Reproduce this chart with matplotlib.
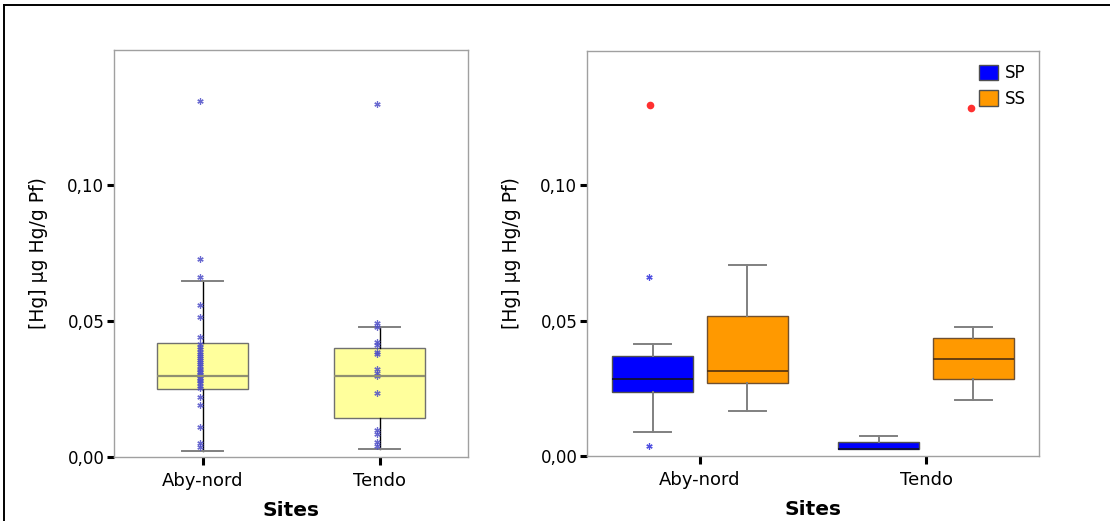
import matplotlib
matplotlib.use("Agg")
import matplotlib.pyplot as plt
from matplotlib.lines import Line2D
from matplotlib.patches import Patch
from matplotlib.ticker import FuncFormatter

# ---------------- data ----------------
sites = ["Aby-nord", "Tendo"]
yticks = [0.0, 0.05, 0.10]

# left panel box stats (per site)
left_med = [0.0299, 0.0299]
left_q1 = [0.0250, 0.0142]
left_q3 = [0.0417, 0.0400]
left_lo = [0.0022, 0.0028]
left_hi = [0.0645, 0.0477]

# individual measurements overlaid in left panel
aby_points = [0.1306, 0.0728, 0.0663, 0.0560, 0.0515, 0.0442, 0.0415, 0.0405,
              0.0395, 0.0385, 0.0378, 0.0370, 0.0362, 0.0355, 0.0348, 0.0340,
              0.0333, 0.0325, 0.0318, 0.0312, 0.0305, 0.0300, 0.0296, 0.0290,
              0.0284, 0.0278, 0.0270, 0.0262, 0.0255, 0.0221, 0.0190, 0.0111,
              0.0050, 0.0035]
tendo_points = [0.1297, 0.0491, 0.0478, 0.0424, 0.0412, 0.0387, 0.0377, 0.0325,
                0.0310, 0.0298, 0.0234, 0.0099, 0.0085, 0.0056, 0.0042]

# right panel box stats: SP and SS per site
groups = ["SP", "SS"]
sp_med = [0.0286, 0.0025]
sp_q1 = [0.0238, 0.0025]
sp_q3 = [0.0368, 0.0051]
sp_lo = [0.0089, 0.0025]
sp_hi = [0.0415, 0.0073]
ss_med = [0.0315, 0.0357]
ss_q1 = [0.0269, 0.0285]
ss_q3 = [0.0515, 0.0436]
ss_lo = [0.0165, 0.0207]
ss_hi = [0.0706, 0.0477]

sp_outliers_site = [0, 0]
sp_outliers = [0.0660, 0.0037]
sp_extreme_site = [0]
sp_extremes = [0.1297]
ss_extreme_site = [1]
ss_extremes = [0.1285]

# ---------------- style ----------------
FONT = "DejaVu Sans"
plt.rcParams["font.family"] = [FONT]
YELLOW = "#FFFF9C"
BLUE = "#0000FF"
ORANGE = "#FF9900"
FRAME = "#A0A0A0"

fig = plt.figure(figsize=(11.1, 5.21), dpi=100)

# figure border (top/left)
fig.add_artist(Line2D([4 / 1110, 4 / 1110], [0, 1 - 5 / 521], color="black", lw=1.4,
                      transform=fig.transFigure))
fig.add_artist(Line2D([4 / 1110, 1], [1 - 5 / 521, 1 - 5 / 521], color="black", lw=1.4,
                      transform=fig.transFigure))

axL = fig.add_axes([114 / 1110, 64 / 521, 354 / 1110, 407 / 521])
axR = fig.add_axes([587 / 1110, 65 / 521, 452 / 1110, 405 / 521])

fmt = FuncFormatter(lambda v, p: f"{v:.2f}".replace(".", ","))


def style_axes(ax):
    ax.set_ylim(0, 0.1495)
    ax.set_xlim(-0.5, 1.5)
    ax.set_yticks(yticks)
    ax.yaxis.set_major_formatter(fmt)
    ax.set_xticks(range(len(sites)))
    ax.set_xticklabels(sites)
    for s in ax.spines.values():
        s.set_color(FRAME)
        s.set_linewidth(1.0)
    ax.tick_params(axis="y", length=5, width=2.2, color="black",
                   labelsize=12, pad=2)
    ax.tick_params(axis="x", length=6, width=2.2, color="black",
                   labelsize=13, pad=5)
    ax.set_xlabel("Sites", fontsize=14.5, fontweight="bold", labelpad=8)
    ax.set_ylabel("[Hg] µg Hg/g Pf)", fontsize=13.5, labelpad=14)


# ---------- left panel ----------
statsL = []
for i in range(len(sites)):
    statsL.append(dict(med=left_med[i], q1=left_q1[i], q3=left_q3[i],
                       whislo=left_lo[i], whishi=left_hi[i], fliers=[]))
axL.bxp(statsL, positions=[0, 1], widths=0.51, patch_artist=True,
        showfliers=False,
        boxprops=dict(facecolor=YELLOW, edgecolor="#707070", linewidth=1.0),
        medianprops=dict(color="#909070", linewidth=1.6),
        whiskerprops=dict(color="black", linewidth=1.0),
        capprops=dict(color="#808080", linewidth=1.4),
        capwidths=0.23)
for i, pts in enumerate([aby_points, tendo_points]):
    axL.plot([i - 0.015] * len(pts), pts, linestyle="none", marker=(6, 2, 0),
             markersize=4.5, markeredgewidth=0.9, color="#5050C8", alpha=0.85)
style_axes(axL)

# ---------- right panel ----------
off = 0.21
statsSP = [dict(med=sp_med[i], q1=sp_q1[i], q3=sp_q3[i], whislo=sp_lo[i],
                whishi=sp_hi[i], fliers=[]) for i in range(len(sites))]
statsSS = [dict(med=ss_med[i], q1=ss_q1[i], q3=ss_q3[i], whislo=ss_lo[i],
                whishi=ss_hi[i], fliers=[]) for i in range(len(sites))]
common = dict(widths=0.36, patch_artist=True, showfliers=False,
              whiskerprops=dict(color="#808080", linewidth=1.4),
              capprops=dict(color="#808080", linewidth=1.4), capwidths=0.16)
axR.bxp(statsSP, positions=[i - off for i in range(len(sites))],
        boxprops=dict(facecolor=BLUE, edgecolor="#505050", linewidth=1.0),
        medianprops=dict(color="#101040", linewidth=1.4), **common)
axR.bxp(statsSS, positions=[i + off for i in range(len(sites))],
        boxprops=dict(facecolor=ORANGE, edgecolor="#705030", linewidth=1.0),
        medianprops=dict(color="#503010", linewidth=1.2), **common)

axR.plot([s - off - 0.015 for s in sp_outliers_site], sp_outliers, linestyle="none",
         marker=(6, 2, 0), markersize=4.5, markeredgewidth=0.9, color="#5050E0")
axR.plot([s - off - 0.012 for s in sp_extreme_site], sp_extremes, linestyle="none",
         marker="o", markersize=5.5, color="#FF3030", markeredgewidth=0)
axR.plot([s + off - 0.012 for s in ss_extreme_site], ss_extremes, linestyle="none",
         marker="o", markersize=5.5, color="#FF3030", markeredgewidth=0)
style_axes(axR)

handles = [Patch(facecolor=BLUE, edgecolor="#505050", label=groups[0]),
           Patch(facecolor=ORANGE, edgecolor="#505050", label=groups[1])]
axR.legend(handles=handles, loc="upper right", frameon=False, fontsize=12,
           handlelength=1.15, handleheight=1.05, handletextpad=0.4,
           labelspacing=0.45, borderaxespad=0.4, bbox_to_anchor=(1.0, 1.0))

fig.savefig("out.png", dpi=100)
